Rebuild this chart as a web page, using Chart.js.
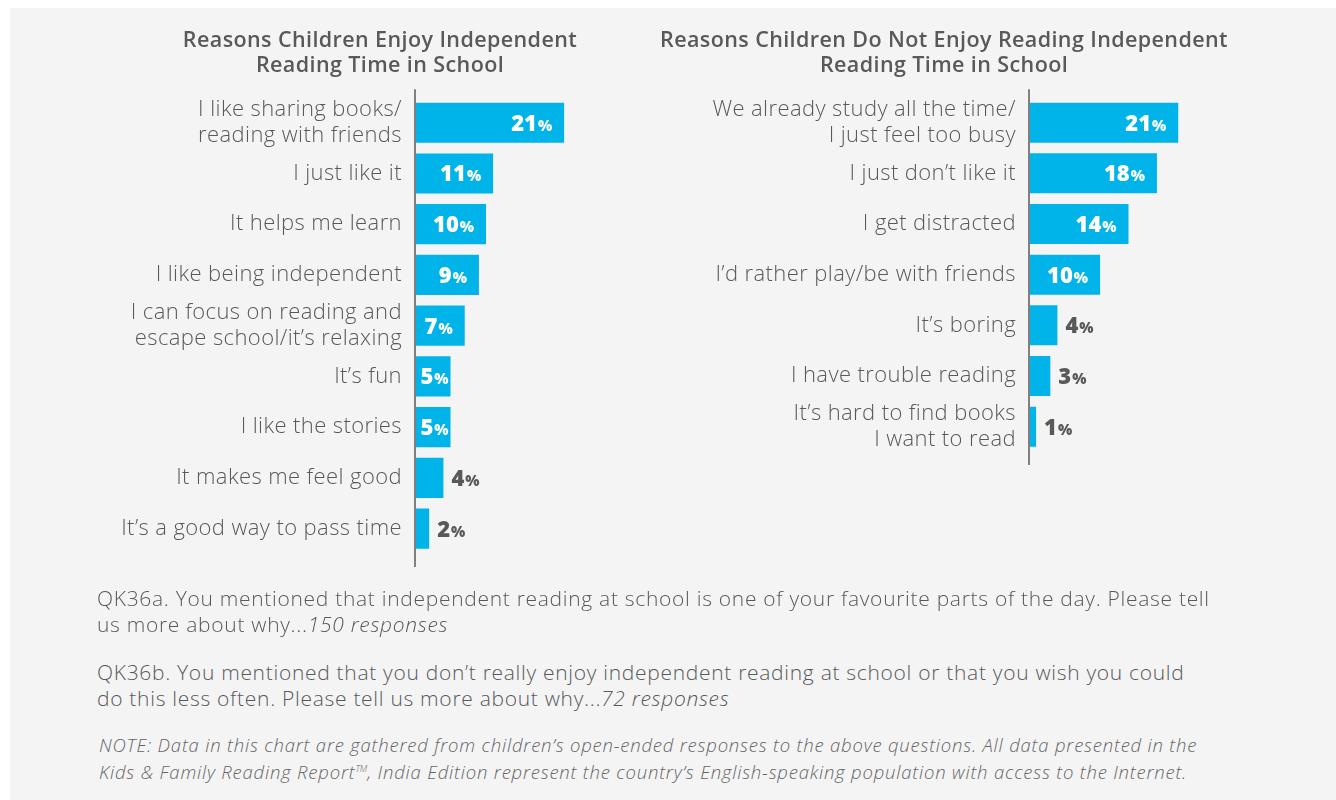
<!DOCTYPE html>
<html>
<head>
<meta charset="utf-8">
<title>Reasons Children Enjoy / Do Not Enjoy Independent Reading</title>
<script src="https://cdn.jsdelivr.net/npm/chart.js@4.4.1/dist/chart.umd.min.js"></script>
<style>
    html, body { margin: 0; padding: 0; background: #fff; }
    body { width: 1336px; height: 800px; position: relative; overflow: hidden; font-family: "Open Sans", sans-serif; }
    .panel { position: absolute; left: 10px; top: 8px; right: 0; bottom: 0; background: #f4f4f4; }
    canvas { position: absolute; top: 0; }
    #chartLeft { left: 100px; }
    #chartRight { left: 660px; }
    .note { position: absolute; left: 97px; color: #58595b; white-space: nowrap; font-weight: 300; }
    .q { font-size: 21px; line-height: 26px; letter-spacing: 0.7px; }
    .small { left: 99px; font-size: 18.5px; line-height: 24px; letter-spacing: 0.8px; font-style: italic; color: #666; }
    sup { font-size: 9px; letter-spacing: 0; }
</style>
</head>
<body>
<div class="panel"></div>
<canvas id="chartLeft" width="560" height="594"></canvas>
<canvas id="chartRight" width="568" height="492"></canvas>

<div class="note q" style="top:585px">QK36a. You mentioned that independent reading at school is one of your favourite parts of the day. Please tell<br>us more about why...<i>150 responses</i></div>
<div class="note q" style="top:659px">QK36b. You mentioned that you don’t really enjoy independent reading at school or that you wish you could<br>do this less often. Please tell us more about why...<i>72 responses</i></div>
<div class="note small" style="top:733px">NOTE: Data in this chart are gathered from children’s open-ended responses to the above questions. All data presented in the<br>Kids &amp; Family Reading Report<sup>TM</sup>, India Edition represent the country’s English-speaking population with access to the Internet.</div>

<script>
// Chart data
const enjoyLabels = [
    ['I like sharing books/', 'reading with friends'],
    'I just like it',
    'It helps me learn',
    'I like being independent',
    ['I can focus on reading and', 'escape school/it’s relaxing'],
    'It’s fun',
    'I like the stories',
    'It makes me feel good',
    'It’s a good way to pass time'
];
const enjoyValues = [21, 11, 10, 9, 7, 5, 5, 4, 2];

const notEnjoyLabels = [
    ['We already study all the time/', 'I just feel too busy'],
    'I just don’t like it',
    'I get distracted',
    'I’d rather play/be with friends',
    'It’s boring',
    'I have trouble reading',
    ['It’s hard to find books', 'I want to read']
];
const notEnjoyValues = [21, 18, 14, 10, 4, 3, 1];

const BAR_COLOR = '#00b4ea';
const TEXT_COLOR = '#58595b';
const FONT = 'Open Sans';

// Slightly wider letter spacing for the axis labels and titles
const spacing = {
    id: 'spacing',
    beforeDraw(chart) {
        chart.ctx.letterSpacing = '0.4px';
    }
};

// Draws the vertical axis line a bit longer than the plot area
const axisLine = {
    id: 'axisLine',
    afterDatasetsDraw(chart) {
        const { ctx, chartArea } = chart;
        ctx.save();
        ctx.strokeStyle = '#808080';
        ctx.lineWidth = 2;
        ctx.beginPath();
        ctx.moveTo(chartArea.left, chartArea.top - 8);
        ctx.lineTo(chartArea.left, chartArea.bottom + 13);
        ctx.stroke();
        ctx.restore();
    }
};

// Value labels: big number with a small "%" sign
const valueLabels = {
    id: 'valueLabels',
    afterDatasetsDraw(chart) {
        const ctx = chart.ctx;
        const values = chart.data.datasets[0].data;
        chart.getDatasetMeta(0).data.forEach((bar, i) => {
            const num = String(values[i]);
            ctx.save();
            ctx.letterSpacing = '0px';
            ctx.font = '800 22px "' + FONT + '"';
            const numW = ctx.measureText(num).width;
            ctx.font = '800 15px "' + FONT + '"';
            const pctW = ctx.measureText('%').width;
            const total = numW + 1 + pctW;
            const barW = bar.x - bar.base;
            let x, color;
            if (barW >= total + 4) {
                const right = Math.max(bar.x - 12, Math.min(bar.x - 2, bar.base + 7 + total));
                x = right - total;
                color = '#ffffff';
            } else {
                x = bar.x + 8;
                color = TEXT_COLOR;
            }
            const y = bar.y + 8;
            ctx.fillStyle = color;
            ctx.textAlign = 'left';
            ctx.textBaseline = 'alphabetic';
            ctx.font = '800 22px "' + FONT + '"';
            ctx.fillText(num, x, y);
            ctx.font = '800 15px "' + FONT + '"';
            ctx.fillText('%', x + numW + 1, y);
            ctx.restore();
        });
    }
};

// The plot area runs to the canvas edge; xMax keeps the same px-per-percent on both charts
function makeChart(id, title, labels, values, axisWidth, xMax) {
    return new Chart(document.getElementById(id), {
        type: 'bar',
        data: {
            labels: labels,
            datasets: [{
                data: values,
                backgroundColor: BAR_COLOR,
                borderWidth: 0,
                barPercentage: 0.79,
                categoryPercentage: 1
            }]
        },
        options: {
            indexAxis: 'y',
            responsive: false,
            animation: false,
            layout: { padding: { left: 0, right: 0, top: 0, bottom: 40 } },
            scales: {
                x: { display: false, min: 0, max: xMax },
                y: {
                    grid: { display: false, drawTicks: false },
                    border: { display: false },
                    ticks: {
                        autoSkip: false,
                        padding: 13,
                        color: TEXT_COLOR,
                        font: { family: FONT, size: 22, weight: 300, lineHeight: 1.15 }
                    },
                    afterFit: function (scale) { scale.width = axisWidth; }
                }
            },
            plugins: {
                legend: { display: false },
                tooltip: { enabled: false },
                title: {
                    display: true,
                    text: title,
                    color: TEXT_COLOR,
                    font: { family: FONT, size: 21.5, weight: 600, lineHeight: 1.17 },
                    padding: { top: 28, bottom: 19 }
                }
            }
        },
        plugins: [spacing, axisLine, valueLabels]
    });
}

Promise.all([
    document.fonts.load('300 20px "Open Sans"'),
    document.fonts.load('600 21px "Open Sans"'),
    document.fonts.load('800 21px "Open Sans"')
]).then(function () {
    makeChart('chartLeft',
        ['Reasons Children Enjoy Independent', 'Reading Time in School'],
        enjoyLabels, enjoyValues, 315, 34.5);
    makeChart('chartRight',
        ['Reasons Children Do Not Enjoy Reading Independent', 'Reading Time in School'],
        notEnjoyLabels, notEnjoyValues, 369, 28);
});
</script>
</body>
</html>
